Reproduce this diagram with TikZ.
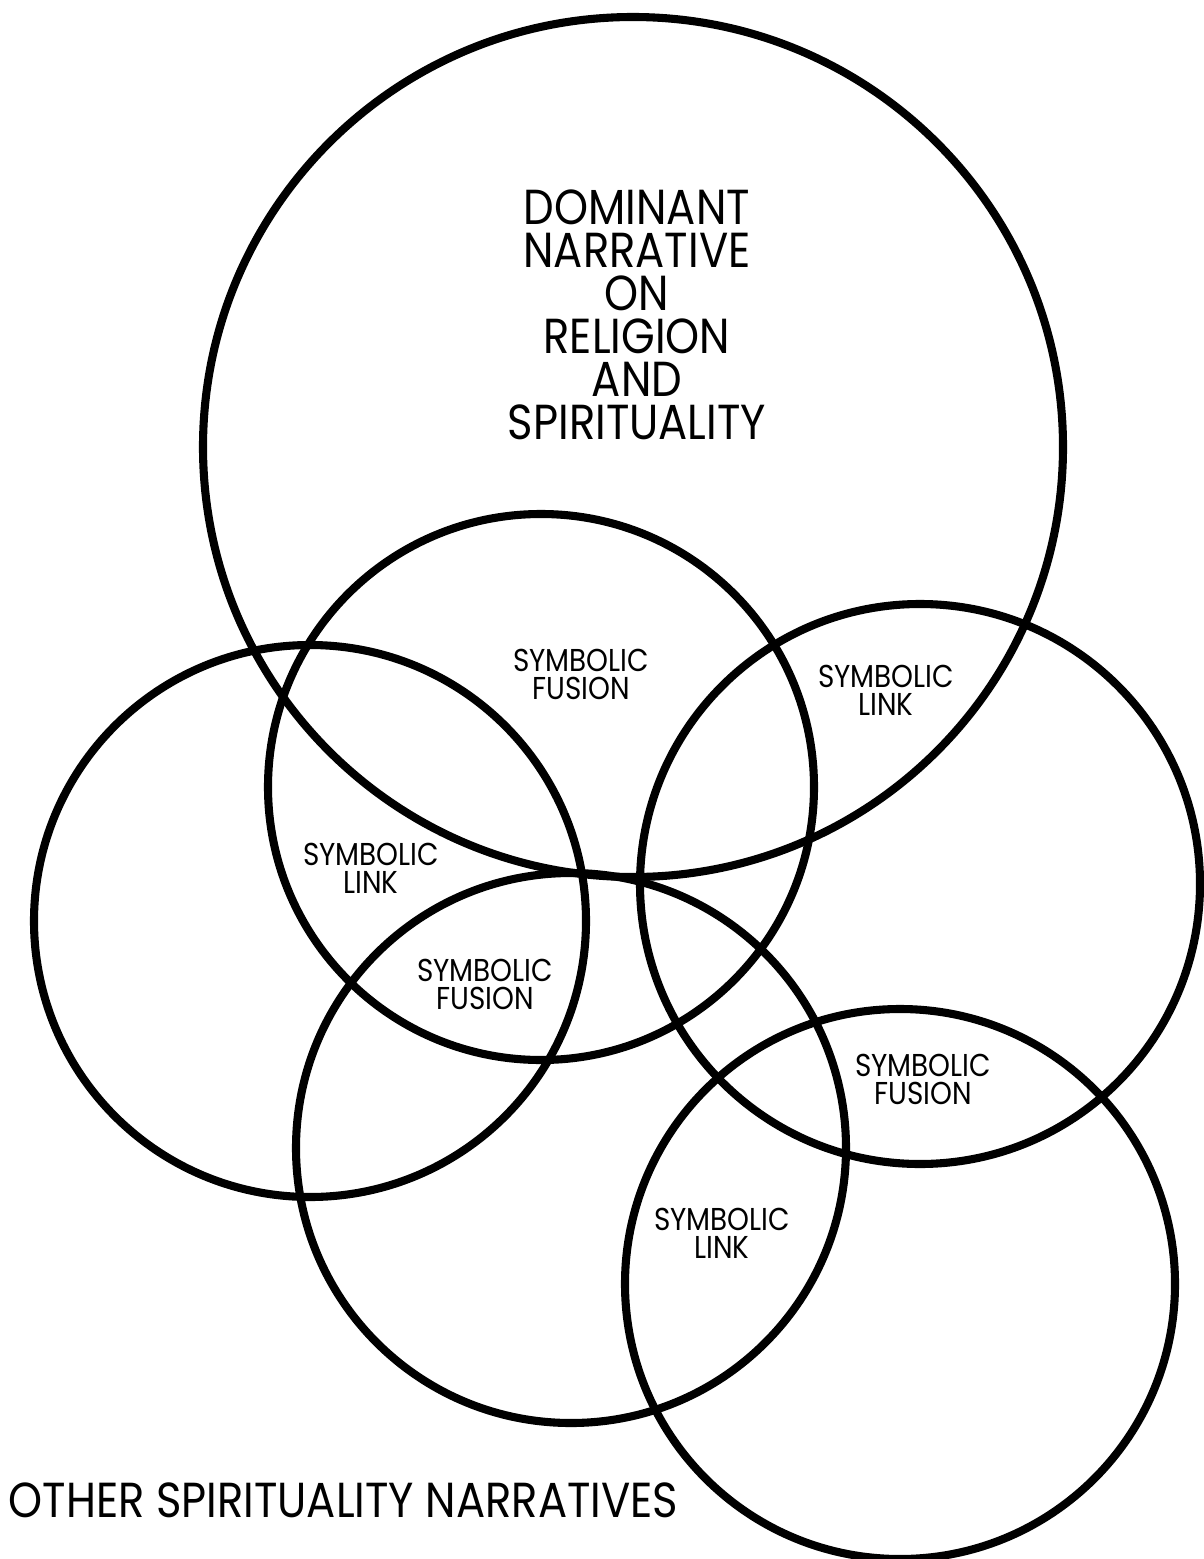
\documentclass[tikz,border=0pt]{standalone}
\usepackage{fontspec}
\setmainfont{Poppins}[FakeStretch=0.88]
\usepackage{tikz}
\usetikzlibrary{positioning}
\tikzset{
    ring/.style={
        line width=2.3pt,
        black
    },
    % big labels
    bigtext/.style={
        align=center,
        inner sep=0pt,
        font=\fontsize{14}{12.2}\selectfont
    },
    % small overlap labels
    smalltext/.style={
        align=center,
        inner sep=0pt,
        font=\fontsize{9}{8}\selectfont
    }
}
\begin{document}
\begin{tikzpicture}
    \useasboundingbox (0,0) rectangle (12.04,-15.59);
    \path
    (6.33,-4.47) coordinate (cDom)
    (5.41,-7.87) coordinate (cTop)
    (3.10,-9.21) coordinate (cLeft)
    (9.20,-8.84) coordinate (cRight)
    (5.71,-11.48) coordinate (cMid)
    (9.00,-12.84) coordinate (cLow)
    ;

    % circles
    \draw[ring] (cDom) circle (4.30cm);
    \draw[ring] (cTop) circle (2.73cm);
    \draw[ring] (cLeft) circle (2.76cm);
    \draw[ring] (cRight) circle (2.80cm);
    \draw[ring] (cMid) circle (2.75cm);
    \draw[ring] (cLow) circle (2.75cm);

    % labels
    \node[bigtext] (lblDom) at (6.37,-3.15) {DOMINANT\\NARRATIVE\\ON\\RELIGION\\AND\\SPIRITUALITY};
    \node[smalltext] (fusTop) at (5.81,-6.74) {SYMBOLIC\\FUSION};
    \node[smalltext] (linkTopR) at (8.86,-6.90) {SYMBOLIC\\LINK};
    \node[smalltext] (linkLeft) at (3.71,-8.685) {SYMBOLIC\\LINK};
    \node[smalltext] (fusMid) at (4.85,-9.84) {SYMBOLIC\\FUSION};
    \node[smalltext] (fusRight) at (9.23,-10.79) {SYMBOLIC\\FUSION};
    \node[smalltext] (linkLow) at (7.22,-12.335) {SYMBOLIC\\LINK};
    \node[bigtext,anchor=west] (lblOther) at (0.08,-15.00) {OTHER SPIRITUALITY NARRATIVES};
\end{tikzpicture}
\end{document}
